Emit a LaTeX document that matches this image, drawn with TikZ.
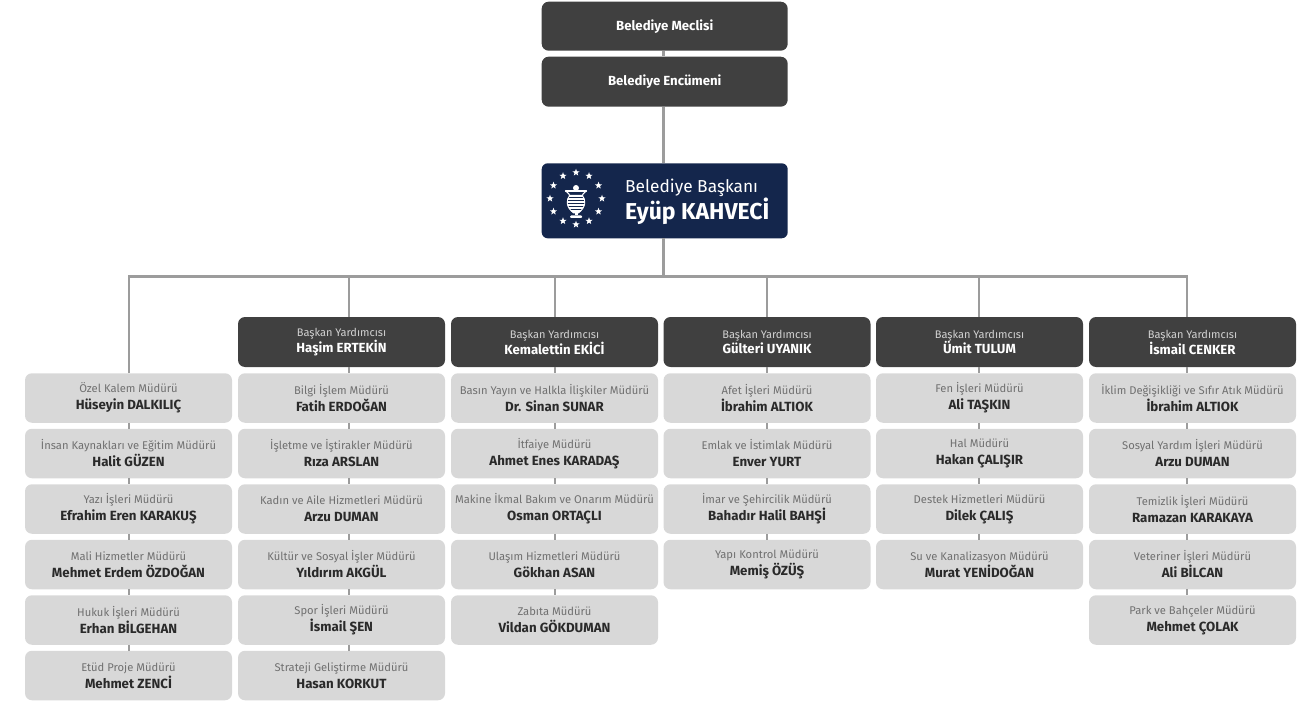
\documentclass[tikz,border=0pt]{standalone}
\usepackage{fontspec}
\setmainfont{Fira Sans}
\usetikzlibrary{shapes.geometric,calc}
\definecolor{darkbox}{HTML}{404040}
\definecolor{lightbox}{HTML}{D8D8D8}
\definecolor{navy}{RGB}{20,38,76}
\definecolor{linegray}{HTML}{9C9C9C}
\definecolor{titlegray}{HTML}{707070}
\definecolor{namegray}{HTML}{2A2A2A}
\definecolor{deptitle}{HTML}{D2D2D2}
\tikzset{
  conn/.style={draw=linegray, line width=2.6pt},
  gbox/.style={rectangle, rounded corners=7pt, fill=lightbox, minimum width=207pt,
    minimum height=49.5pt, inner sep=0pt, align=center, font=\fontsize{11.2}{17}\selectfont},
  dbox/.style={rectangle, rounded corners=7pt, fill=darkbox, minimum width=207pt,
    minimum height=50pt, inner sep=0pt, align=center, font=\fontsize{11}{15}\selectfont},
  topbox/.style={rectangle, rounded corners=7pt, fill=darkbox, minimum width=246pt,
    minimum height=49pt, inner sep=0pt, text=white, font=\bfseries\fontsize{13.2}{15}\selectfont},
  starw/.style={star, star points=5, star point ratio=2.4, fill=white, inner sep=0pt, minimum size=7.5pt},
}
\newcommand\gtitle{\color{titlegray}}
\newcommand\gname{\bfseries\fontsize{13.3}{17}\selectfont\color{namegray}}
\newcommand\dtitle{\color{deptitle}}
\newcommand\dname{\bfseries\fontsize{13.2}{15}\selectfont\color{white}}
% #1 id, #2 box center x, #3 line x, #4 list
\newcommand\orgcol[4]{%
  \coordinate (b#1) at (#3,276.7);
  \foreach \t/\n [count=\i, remember=\i as \lasti (initially 0)] in {#4} {
    \node[gbox] (c#1r\i) at (#2,{398+55.5*(\i-1)}) {{\gtitle \t}\\{\gname \n}};
    \ifnum\i>1 \draw[conn] (c#1r\lasti.south -| b#1) -- (c#1r\i.north -| b#1); \fi
  }%
}
\newcommand\deputy[3]{% #1 id, #2 box center x, #3 name
  \node[dbox] (vp#1) at (#2,342) {{\dtitle Başkan Yardımcısı}\\{\dname #3}};
}
\begin{document}
\begin{tikzpicture}[x=1pt,y=-1pt]
\useasboundingbox (0,0) rectangle (1313,703);

% top
\coordinate (m) at (663.5,0);
\node[topbox] (meclis) at (664.7,26.2) {Belediye Meclisi};
\node[topbox, minimum height=50pt] (encumen) at (664.7,81.7) {Belediye Encümeni};
\node[rectangle, rounded corners=6pt, fill=navy, minimum width=246pt, minimum height=75pt, inner sep=0pt] (mayor) at (664.7,200.8) {};
\node[anchor=west, align=left, inner sep=0pt, text=white, font=\fontsize{17.3}{22}\selectfont] (mayortxt) at (625,202)
  {Belediye Başkanı\\{\bfseries\fontsize{23}{22}\selectfont Eyüp KAHVECİ}};
% logo
\foreach \a in {0,30,...,330} {
  \node[starw] (st\a) at ($(576,198.5)+(\a:26pt)$) {};
}
\node[circle, fill=white, inner sep=0pt, minimum size=6pt] (knob) at (576,188) {};
% rim and outer flare
\draw[white, line width=1.2pt, line cap=round] (565.5,191) -- (586.5,191);
\draw[white, line width=1.1pt] (566,191) .. controls (568,194) and (570.5,194) .. (570,197);
\draw[white, line width=1.1pt] (586,191) .. controls (584,194) and (581.5,194) .. (582,197);
% striped body
\begin{scope}
  \clip (570,195) .. controls (565.5,200) and (566,207) .. (573.5,213) -- (578.5,213)
    .. controls (586,207) and (586.5,200) .. (582,195) -- cycle;
  \fill[white] (564,194) rectangle (588,214);
  \foreach \yy in {197.5,200.5,203.5,206.5,209.5} { \draw[navy, line width=1pt] (564,\yy) -- (588,\yy); }
\end{scope}
\draw[white, line width=0.9pt] (570,195) .. controls (565.5,200) and (566,207) .. (573.5,213) -- (578.5,213)
    .. controls (586,207) and (586.5,200) .. (582,195);
\fill[white] (574.5,213) rectangle (577.5,215.5);
\fill[white, rounded corners=1pt] (570,215.5) rectangle (582,218);

% columns
\deputy{2}{341.5}{Haşim ERTEKİN}
\deputy{3}{554.5}{Kemalettin EKİCİ}
\deputy{4}{767}{Gülteri UYANIK}
\deputy{5}{979.5}{Ümit TULUM}
\deputy{6}{1192.5}{İsmail CENKER}

\orgcol{1}{128.5}{129}{Özel Kalem Müdürü/Hüseyin DALKILIÇ,
  İnsan Kaynakları ve Eğitim Müdürü/Halit GÜZEN,
  Yazı İşleri Müdürü/Efrahim Eren KARAKUŞ,
  Mali Hizmetler Müdürü/Mehmet Erdem ÖZDOĞAN,
  Hukuk İşleri Müdürü/Erhan BİLGEHAN,
  Etüd Proje Müdürü/Mehmet ZENCİ}
\orgcol{2}{341.5}{349}{Bilgi İşlem Müdürü/Fatih ERDOĞAN,
  İşletme ve İştirakler Müdürü/Rıza ARSLAN,
  Kadın ve Aile Hizmetleri Müdürü/Arzu DUMAN,
  Kültür ve Sosyal İşler Müdürü/Yıldırım AKGÜL,
  Spor İşleri Müdürü/İsmail ŞEN,
  Strateji Geliştirme Müdürü/Hasan KORKUT}
\orgcol{3}{554.5}{555}{Basın Yayın ve Halkla İlişkiler Müdürü/Dr. Sinan SUNAR,
  İtfaiye Müdürü/Ahmet Enes KARADAŞ,
  Makine İkmal Bakım ve Onarım Müdürü/Osman ORTAÇLI,
  Ulaşım Hizmetleri Müdürü/Gökhan ASAN,
  Zabıta Müdürü/Vildan GÖKDUMAN}
\orgcol{4}{767}{767}{Afet İşleri Müdürü/İbrahim ALTIOK,
  Emlak ve İstimlak Müdürü/Enver YURT,
  İmar ve Şehircilik Müdürü/Bahadır Halil BAHŞİ,
  Yapı Kontrol Müdürü/Memiş ÖZÜŞ}
\orgcol{5}{979.5}{979}{Fen İşleri Müdürü/Ali TAŞKIN,
  Hal Müdürü/Hakan ÇALIŞIR,
  Destek Hizmetleri Müdürü/Dilek ÇALIŞ,
  Su ve Kanalizasyon Müdürü/Murat YENİDOĞAN}
\orgcol{6}{1192.5}{1187}{İklim Değişikliği ve Sıfır Atık Müdürü/İbrahim ALTIOK,
  Sosyal Yardım İşleri Müdürü/Arzu DUMAN,
  Temizlik İşleri Müdürü/Ramazan KARAKAYA,
  Veteriner İşleri Müdürü/Ali BİLCAN,
  Park ve Bahçeler Müdürü/Mehmet ÇOLAK}

% connectors
\coordinate (bus) at (663.5,276.7);
\draw[conn] (meclis.south -| m) -- (encumen.north -| m);
\draw[conn] (encumen.south -| m) -- (mayor.north -| m);
\draw[conn] (mayor.south -| m) -- (bus);
\draw[conn] (c1r1.north -| b1) -- (b1) -- (b6) -- (vp6.north -| b6);
\foreach \k in {2,3,4,5} { \draw[conn] (b\k) -- (vp\k.north -| b\k); }
\foreach \k in {2,3,4,5,6} { \draw[conn] (vp\k.south -| b\k) -- (c\k r1.north -| b\k); }
\end{tikzpicture}
\end{document}
